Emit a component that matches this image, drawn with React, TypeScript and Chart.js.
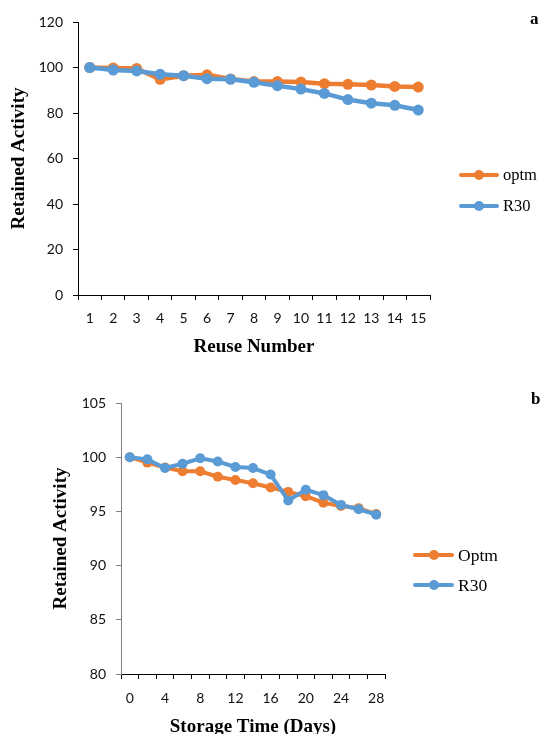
import React, { useEffect, useRef } from 'react';
import { Chart, registerables } from 'chart.js';

Chart.register(...registerables);

// ---------- data ----------
const reuseLabels = ['1', '2', '3', '4', '5', '6', '7', '8', '9', '10', '11', '12', '13', '14', '15'];
const reuseOptm = [100, 99.8, 99.6, 94.8, 96.4, 96.8, 95.0, 93.8, 93.8, 93.6, 92.9, 92.6, 92.3, 91.7, 91.4];
const reuseR30 = [100, 98.9, 98.5, 97.0, 96.4, 95.1, 94.8, 93.5, 92.0, 90.5, 88.6, 85.9, 84.3, 83.4, 81.3];

const storageLabels = ['0', '2', '4', '6', '8', '10', '12', '14', '16', '18', '20', '22', '24', '26', '28'];
const storageOptm = [100, 99.5, 99.05, 98.7, 98.7, 98.2, 97.9, 97.6, 97.2, 96.8, 96.4, 95.8, 95.5, 95.3, 94.75];
const storageR30 = [100, 99.8, 99.0, 99.4, 99.9, 99.6, 99.1, 99.0, 98.4, 96.0, 97.0, 96.5, 95.6, 95.2, 94.7];

const reuseSeriesNames = ['optm', 'R30'];
const storageSeriesNames = ['Optm', 'R30'];

const ORANGE = '#ED7D31';
const BLUE = '#5B9BD5';
const TICK_FONT = 'Lato';
const SERIF = '"Liberation Serif", "Times New Roman", serif';

type PanelOpts = {
  labels: string[];
  optm: number[];
  r30: number[];
  names: string[];
  yMin: number;
  yMax: number;
  yStep: number;
  xTitle: string;
  yAxisColor: string;
  padding: { left: number; right: number; top: number; bottom: number };
  yWidth: number;
  xHeight: number;
  labelEvery: number;
  lineWidth: number;
  pointRadius: number;
  xTickPad: number;
};

function makeConfig(o: PanelOpts): any {
  return {
    type: 'line',
    data: {
      labels: o.labels,
      datasets: [
        {
          label: o.names[0],
          data: o.optm,
          borderColor: ORANGE,
          backgroundColor: ORANGE,
          borderWidth: o.lineWidth,
          pointRadius: o.pointRadius,
          pointHoverRadius: o.pointRadius,
          pointBorderWidth: 0,
          tension: 0,
          order: 1,
        },
        {
          label: o.names[1],
          data: o.r30,
          borderColor: BLUE,
          backgroundColor: BLUE,
          borderWidth: o.lineWidth,
          pointRadius: o.pointRadius,
          pointHoverRadius: o.pointRadius,
          pointBorderWidth: 0,
          tension: 0,
          order: 0,
        },
      ],
    },
    options: {
      responsive: false,
      animation: false,
      events: [],
      layout: { padding: o.padding },
      plugins: { legend: { display: false }, tooltip: { enabled: false }, title: { display: false } },
      scales: {
        x: {
          type: 'category',
          offset: true,
          grid: {
            display: true,
            offset: true,
            drawOnChartArea: false,
            drawTicks: true,
            tickLength: 5,
            color: '#000',
            lineWidth: 1,
          },
          border: { display: true, color: '#000', width: 1 },
          ticks: {
            color: '#111',
            font: { family: TICK_FONT, size: 14 },
            padding: o.xTickPad,
            maxRotation: 0,
            minRotation: 0,
            autoSkip: false,
            callback: function (this: any, val: any, idx: number) {
              return idx % o.labelEvery === 0 ? this.getLabelForValue(val) : '';
            },
          },
          title: {
            display: true,
            text: o.xTitle,
            color: '#000',
            font: { family: SERIF, size: 19, weight: 'bold' },
            padding: { top: 0, bottom: 0 },
          },
          afterFit: (s: any) => {
            s.height = o.xHeight;
          },
        },
        y: {
          min: o.yMin,
          max: o.yMax,
          grid: {
            display: true,
            drawOnChartArea: false,
            drawTicks: true,
            tickLength: 5,
            color: o.yAxisColor,
            lineWidth: 1,
          },
          border: { display: true, color: o.yAxisColor, width: 1 },
          ticks: {
            stepSize: o.yStep,
            color: '#111',
            font: { family: TICK_FONT, size: 14 },
            padding: 10,
          },
          title: {
            display: true,
            text: 'Retained Activity',
            color: '#000',
            font: { family: SERIF, size: 19, weight: 'bold' },
            padding: { top: 0, bottom: 0 },
          },
          afterFit: (s: any) => {
            s.width = o.yWidth;
          },
        },
      },
    },
  };
}

function ChartCanvas({ opts, width, height, top }: { opts: PanelOpts; width: number; height: number; top: number }) {
  const ref = useRef<HTMLCanvasElement | null>(null);
  useEffect(() => {
    if (!ref.current) return;
    const chart = new Chart(ref.current, makeConfig(opts));
    return () => chart.destroy();
  }, []);
  return (
    <canvas
      ref={ref}
      width={width}
      height={height}
      style={{ position: 'absolute', left: 0, top, width, height, display: 'block' }}
    />
  );
}

function LegendItem({ color, text, x, y, lineW, fontSize }: { color: string; text: string; x: number; y: number; lineW: number; fontSize: number }) {
  return (
    <div
      style={{
        position: 'absolute',
        left: x,
        top: y - 12,
        height: 24,
        display: 'flex',
        alignItems: 'center',
        whiteSpace: 'nowrap',
      }}
    >
      <div style={{ position: 'relative', width: lineW, height: 24 }}>
        <div style={{ position: 'absolute', left: 0, top: 10, width: lineW, height: 4, background: color, borderRadius: 2 }} />
        <div
          style={{
            position: 'absolute',
            left: lineW / 2 - 5,
            top: 7,
            width: 10,
            height: 10,
            borderRadius: '50%',
            background: color,
          }}
        />
      </div>
      <span style={{ fontFamily: SERIF, fontSize, color: '#000', marginLeft: 4, lineHeight: '24px' }}>{text}</span>
    </div>
  );
}

export default function App() {
  const topOpts: PanelOpts = {
    labels: reuseLabels,
    optm: reuseOptm,
    r30: reuseR30,
    names: reuseSeriesNames,
    yMin: 0,
    yMax: 120,
    yStep: 20,
    xTitle: 'Reuse Number',
    yAxisColor: '#000',
    padding: { left: 8, right: 116, top: 22, bottom: 12 },
    yWidth: 70,
    xHeight: 63,
    labelEvery: 1,
    lineWidth: 4.5,
    pointRadius: 5.5,
    xTickPad: 10,
  };
  const bottomOpts: PanelOpts = {
    labels: storageLabels,
    optm: storageOptm,
    r30: storageR30,
    names: storageSeriesNames,
    yMin: 80,
    yMax: 105,
    yStep: 5,
    xTitle: 'Storage Time (Days)',
    yAxisColor: '#7f7f7f',
    padding: { left: 50, right: 161, top: 43, bottom: 12 },
    yWidth: 71,
    xHeight: 64,
    labelEvery: 2,
    lineWidth: 4,
    pointRadius: 5,
    xTickPad: 11,
  };
  return (
    <div
      style={{
        position: 'absolute',
        left: 0,
        top: 0,
        width: 546,
        height: 734,
        overflow: 'hidden',
        background: '#fff',
      }}
    >
      <ChartCanvas opts={topOpts} width={546} height={370} top={0} />
      <ChartCanvas opts={bottomOpts} width={546} height={390} top={360} />
      <LegendItem color={ORANGE} text={reuseSeriesNames[0]} x={459} y={175} lineW={40} fontSize={16.5} />
      <LegendItem color={BLUE} text={reuseSeriesNames[1]} x={459} y={206} lineW={40} fontSize={16.5} />
      <LegendItem color={ORANGE} text={storageSeriesNames[0]} x={413} y={555} lineW={41} fontSize={17.5} />
      <LegendItem color={BLUE} text={storageSeriesNames[1]} x={413} y={585} lineW={41} fontSize={17.5} />
      <div style={{ position: 'absolute', left: 530, top: 9, fontFamily: SERIF, fontWeight: 'bold', fontSize: 17, lineHeight: '20px' }}>a</div>
      <div style={{ position: 'absolute', left: 531, top: 389, fontFamily: SERIF, fontWeight: 'bold', fontSize: 17, lineHeight: '20px' }}>b</div>
    </div>
  );
}
